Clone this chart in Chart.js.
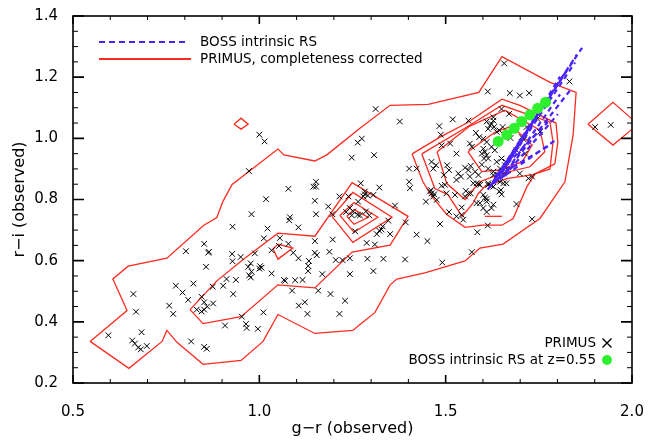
<!DOCTYPE html>
<html>
<head>
<meta charset="utf-8">
<script src="https://cdn.jsdelivr.net/npm/chart.js@4.4.1/dist/chart.umd.min.js"></script>
<style>
  html, body { margin: 0; background: #fff; }
  #wrap { width: 662px; height: 440px; }
</style>
</head>
<body>
<div id="wrap"><canvas id="chart"></canvas></div>
<script>
// axis ticks
const xTicks = [0.5, 1.0, 1.5, 2.0]
const yTicks = [0.2, 0.4, 0.6, 0.8, 1.0, 1.2, 1.4]

// PRIMUS galaxies, [g-r, r-i]
const primusPoints = [
  [0.595,0.356],[0.662,0.491],[0.669,0.433],[0.684,0.366],[0.659,0.339],[0.666,0.329],[0.675,0.316],[0.682,0.310],[0.698,0.321],
  [0.758,0.453],[0.769,0.426],[0.776,0.518],[0.794,0.496],[0.809,0.472],[0.823,0.525],[0.857,0.580],[0.845,0.482],[0.852,0.464],
  [0.860,0.450],[0.832,0.440],[0.845,0.434],[0.852,0.440],[0.876,0.460],[0.875,0.515],[0.903,0.518],[0.912,0.540],[0.937,0.537],
  [0.930,0.491],[0.928,0.598],[0.927,0.622],[0.950,0.612],[0.970,0.580],[0.908,0.388],[0.953,0.417],[0.966,0.380],[0.817,0.336],
  [0.852,0.318],[0.859,0.312],[0.863,0.626],[0.803,0.631],[0.852,0.655],[0.865,0.629],
  [0.964,0.393],[0.996,0.377],[1.011,0.431],[0.928,0.711],[0.979,0.752],[1.018,0.801],[1.012,0.673],[1.022,0.705],[1.033,0.634],
  [1.055,0.674],[1.078,0.835],[1.080,0.732],[1.082,0.742],[1.105,0.709],[1.053,0.648],[1.078,0.655],[1.091,0.626],[1.105,0.608],
  [1.131,0.583],[1.133,0.599],[1.131,0.566],[1.149,0.626],[1.154,0.618],[1.116,0.537],[1.088,0.502],[1.122,0.464],[1.106,0.453],
  [1.129,0.426],[1.158,0.502],[1.169,0.556],[1.188,0.629],[1.191,0.491],[1.215,0.426],[1.230,0.469],[1.205,0.602],[1.223,0.602],
  [1.243,0.608],[1.243,0.556],[1.149,0.664],[1.152,0.752],[1.149,0.796],[1.152,0.842],[1.197,0.669],[1.185,0.777],[1.196,0.752],
  [1.215,0.810],[1.239,0.810],[1.243,0.772],[1.252,0.761],[1.257,0.696],[1.264,0.750],
  [0.988,0.624],[0.977,0.591],[1.002,0.582],[1.006,0.577],[1.000,0.574],[0.979,0.564],[0.973,0.552],[0.977,0.545],[1.033,0.558],
  [1.066,0.537],[1.069,0.534],[1.096,0.536],
  [1.283,0.817],[1.306,0.815],[1.265,0.793],[1.233,0.759],[1.248,0.748],[1.270,0.748],[1.286,0.761],[1.295,0.748],[1.364,0.780],
  [1.346,0.731],[1.331,0.712],[1.322,0.698],[1.315,0.687],[1.328,0.702],[1.351,0.687],[1.393,0.725],[1.288,0.658],[1.310,0.653],
  [1.422,0.685],[1.451,0.664],[1.290,0.606],[1.333,0.606],[1.391,0.604],[1.306,0.566],[1.491,0.594],[1.570,0.628],[1.447,0.793],
  [1.462,0.820],[1.476,0.799],[1.485,0.720],[1.502,0.820],[1.525,0.815],[1.552,0.810],[1.561,0.820],[1.509,0.759],[1.529,0.745],
  [1.543,0.750],[1.543,0.774],[1.547,0.734],[1.583,0.788],[1.601,0.772],[1.610,0.793],[1.605,0.806],[1.628,0.783],[1.623,0.772],
  [1.610,0.759],[1.650,0.817],[1.585,0.693],[1.613,0.715],[1.690,0.785],[1.732,0.736],
  [1.000,1.012],[1.014,0.990],[0.972,0.893],[1.145,0.842],[1.152,0.858],[1.248,0.937],[1.264,0.986],[1.308,0.945],[1.272,0.853],
  [1.322,0.839],[1.283,0.826],[1.291,0.813],[1.279,0.810],
  [1.657,1.245],[1.832,1.186],[1.613,1.153],[1.672,1.148],[1.699,1.140],[1.724,1.148],[1.312,1.096],[1.377,1.055],[1.519,1.062],
  [1.483,1.040],[1.561,1.058],[1.610,1.055],[1.623,1.047],[1.630,1.037],[1.614,1.031],[1.637,1.021],[1.581,1.018],[1.590,1.004],
  [1.601,0.999],[1.610,0.988],[1.487,1.012],[1.512,0.983],[1.489,0.977],[1.529,0.950],[1.275,0.999],[1.402,0.901],[1.422,0.901],
  [1.402,0.858],[1.462,0.923],[1.474,0.912],[1.467,0.901],[1.504,0.912],[1.509,0.896],[1.495,0.880],[1.489,0.845],[1.498,0.848],
  [1.534,0.885],[1.541,0.875],[1.529,0.864],[1.552,0.904],[1.567,0.910],[1.561,0.896],[1.583,0.853],[1.589,0.850],[1.554,0.828],
  [1.567,0.820],[1.614,0.848],[1.628,0.842],[1.460,0.831],[1.469,0.817],[1.404,0.837],[1.628,0.880],[1.656,0.885],[1.646,0.901],
  [1.648,0.831],[1.644,0.826],[1.663,0.853],[1.601,0.966],[1.605,0.956],[1.597,0.950],[1.610,0.945],[1.614,0.934],[1.603,0.934],
  [1.623,0.972],[1.632,0.961],[1.650,0.934],[1.662,0.923],[1.659,0.912],[1.637,0.923],[1.690,0.961],[1.713,0.950],[1.710,0.996],
  [1.732,0.875],[1.901,1.037],[1.943,1.044],
  [1.650,1.096],[1.628,1.069],[1.670,1.080],[1.644,1.026],[1.653,1.037],[1.746,1.064],[1.717,1.037],[1.753,1.021],[1.674,1.001],
  [1.704,1.004],
  [1.565,0.983],[1.570,0.972],[1.579,0.891],[1.588,0.880],[1.565,0.875],[1.574,0.853],[1.597,0.914],[1.614,0.901],[1.628,0.891],
  [1.641,0.880],[1.646,0.858],[1.655,0.853],[1.637,0.864],[1.592,0.848],[1.614,0.853],[1.623,0.845],[1.458,0.826],[1.467,0.810],
  [1.601,0.815],[1.610,0.802],[1.592,0.788],[1.628,1.058],[1.619,1.042],[1.699,0.885],[1.722,0.869],[1.668,0.896]
]

// BOSS intrinsic red sequence at z=0.55
const bossRS = [
  [1.641,0.990],[1.664,1.012],[1.684,1.033],[1.704,1.055],[1.726,1.077],[1.747,1.098],[1.768,1.118]
]

// BOSS intrinsic RS tracks: [gr0, ri0, gr1, ri1]
const bossTracks = [
  [1.619,0.842,1.866,1.296],
  [1.624,0.849,1.852,1.274],
  [1.630,0.852,1.847,1.248],
  [1.635,0.858,1.828,1.228],
  [1.640,0.865,1.807,1.202],
  [1.646,0.865,1.834,1.157],
  [1.651,0.871,1.807,1.144],
  [1.656,0.875,1.801,1.079],
  [1.662,0.881,1.799,0.998],
  [1.659,0.891,1.780,0.978],
  [1.632,0.875,1.774,1.053],
  [1.613,0.832,1.766,1.118]
]

// PRIMUS density contours (completeness corrected)
const contourOuter = [
  [0.546,0.336],[0.650,0.248],[0.739,0.336],[0.752,0.372],[0.779,0.333],[0.849,0.261],[0.951,0.274],[1.010,0.336],
  [1.050,0.424],[1.149,0.362],[1.251,0.372],[1.270,0.391],[1.310,0.430],[1.351,0.521],[1.369,0.540],[1.444,0.560],
  [1.552,0.599],[1.592,0.641],[1.654,0.654],[1.753,0.738],[1.820,0.858],[1.842,1.011],[1.850,1.150],[1.780,1.183],
  [1.651,1.267],[1.589,1.150],[1.453,1.111],[1.351,1.108],[1.270,1.033],[1.181,0.946],[1.149,0.926],[1.066,0.946],
  [1.050,0.965],[0.927,0.849],[0.902,0.793],[0.886,0.741],[0.851,0.716],[0.752,0.608],[0.648,0.582],[0.607,0.540],
  [0.645,0.437]
]
const contourBridge = [
  [0.814,0.440],[0.849,0.394],[0.951,0.417],[1.050,0.521],[1.149,0.511],[1.249,0.628],[1.351,0.651],[1.399,0.745],
  [1.249,0.855],[1.149,0.680],[1.050,0.690],[0.961,0.608],[0.886,0.534]
]
const contourMidA = [[1.195,0.745],[1.251,0.823],[1.356,0.742],[1.251,0.660]]
const contourMidB = [[1.216,0.748],[1.254,0.790],[1.318,0.742],[1.254,0.693]]
const contourMidC = [[1.235,0.745],[1.254,0.767],[1.292,0.742],[1.254,0.719]]
const contourTri = [[1.037,0.638],[1.050,0.654],[1.090,0.641],[1.050,0.605]]
const contourSpotL = [[0.932,1.046],[0.951,1.066],[0.970,1.046],[0.951,1.030]]
const contourSpotR = [[1.882,1.046],[1.949,1.118],[2.016,1.046],[1.949,0.978]]
const contourRedA = [
  [1.410,0.949],[1.485,1.004],[1.557,1.050],[1.651,1.128],[1.699,1.108],[1.796,1.050],[1.801,0.988],[1.793,0.917],
  [1.740,0.884],[1.718,0.842],[1.681,0.738],[1.651,0.716],[1.600,0.716],[1.552,0.709],[1.503,0.751],[1.463,0.810],
  [1.439,0.858]
]
const contourRedB = [
  [1.436,0.949],[1.557,1.037],[1.651,1.108],[1.780,1.053],[1.788,0.988],[1.780,0.900],[1.734,0.881],[1.664,0.868],
  [1.605,0.842],[1.587,0.819],[1.573,0.787],[1.544,0.745],[1.506,0.816],[1.471,0.836]
]
const contourRedC = [
  [1.477,0.956],[1.565,1.040],[1.659,1.092],[1.753,1.027],[1.766,0.956],[1.726,0.907],[1.646,0.884],[1.592,0.858],
  [1.552,0.800],[1.503,0.852]
]
const contourRedD = [[1.560,0.956],[1.632,1.020],[1.678,1.040],[1.732,0.978],[1.705,0.923],[1.646,0.897],[1.597,0.891]]
const contourStub = [[1.605,0.745],[1.651,0.745]]

const closedContours = [contourOuter, contourBridge, contourMidA, contourMidB, contourMidC, contourTri,
  contourSpotL, contourSpotR, contourRedA, contourRedB, contourRedC, contourRedD]

const RED = '#ff2a1f'
const BLUE = '#4a22ff'
const GREEN = '#2ef02e'
const FONT = 'DejaVu Sans'

const toXY = pts => pts.map(([x, y]) => ({ x, y }))

const datasets = []
datasets.push({
  label: 'BOSS intrinsic RS at z=0.55',
  data: toXY(bossRS),
  pointStyle: 'circle',
  pointRadius: 5.5,
  backgroundColor: GREEN,
  borderWidth: 0
})
bossTracks.forEach(t => {
  datasets.push({
    label: 'BOSS intrinsic RS',
    data: [{ x: t[0], y: t[1] }, { x: t[2], y: t[3] }],
    showLine: true,
    borderColor: BLUE,
    borderWidth: 2.2,
    borderDash: [5, 4],
    pointRadius: 0
  })
})
datasets.push({
  label: 'PRIMUS',
  data: toXY(primusPoints),
  pointStyle: 'crossRot',
  pointRadius: 4,
  borderColor: '#000',
  borderWidth: 1
})
closedContours.forEach(c => {
  datasets.push({
    label: 'PRIMUS, completeness corrected',
    data: toXY(c.concat([c[0]])),
    showLine: true,
    borderColor: RED,
    borderWidth: 1.3,
    pointRadius: 0,
    tension: 0
  })
})
datasets.push({
  label: 'PRIMUS, completeness corrected',
  data: toXY(contourStub),
  showLine: true,
  borderColor: RED,
  borderWidth: 1.3,
  pointRadius: 0
})

// box with inward ticks on all sides, plus the two in-plot legends
const boxAndLegends = {
  id: 'boxAndLegends',
  afterDatasetsDraw (chart) {
    const { ctx, chartArea: a, scales: { x, y } } = chart
    ctx.save()
    ctx.strokeStyle = '#000'
    ctx.lineWidth = 1.6
    ctx.strokeRect(a.left, a.top, a.right - a.left, a.bottom - a.top)

    const tick = (major) => {
      ctx.beginPath()
      for (let i = 0; i <= 15; i++) {
        if ((i % 5 === 0) !== major) continue
        const px = x.getPixelForValue(0.5 + i * 0.1)
        const len = major ? 8 : 4
        ctx.moveTo(px, a.bottom); ctx.lineTo(px, a.bottom - len)
        ctx.moveTo(px, a.top); ctx.lineTo(px, a.top + len)
      }
      for (let i = 0; i <= 24; i++) {
        if ((i % 4 === 0) !== major) continue
        const py = y.getPixelForValue(0.2 + i * 0.05)
        const len = major ? 11 : 5
        ctx.moveTo(a.left, py); ctx.lineTo(a.left + len, py)
        ctx.moveTo(a.right, py); ctx.lineTo(a.right - len, py)
      }
      ctx.stroke()
    }
    ctx.lineWidth = 1.6; tick(true)
    ctx.lineWidth = 1; tick(false)

    // upper-left legend
    ctx.font = '13.5px "' + FONT + '"'
    ctx.fillStyle = '#000'
    ctx.textBaseline = 'middle'
    ctx.textAlign = 'left'
    const lx = a.left + 26
    ctx.strokeStyle = BLUE; ctx.lineWidth = 2; ctx.setLineDash([6, 4])
    ctx.beginPath(); ctx.moveTo(lx, a.top + 26); ctx.lineTo(lx + 88, a.top + 26); ctx.stroke()
    ctx.setLineDash([])
    ctx.strokeStyle = RED; ctx.lineWidth = 2
    ctx.beginPath(); ctx.moveTo(lx, a.top + 43); ctx.lineTo(lx + 92, a.top + 43); ctx.stroke()
    ctx.fillText('BOSS intrinsic RS', lx + 101, a.top + 26)
    ctx.fillText('PRIMUS, completeness corrected', lx + 101, a.top + 43)

    // lower-right legend
    ctx.textAlign = 'right'
    const rx = a.right - 36
    ctx.fillText('PRIMUS', rx, a.bottom - 40)
    ctx.fillText('BOSS intrinsic RS at z=0.55', rx, a.bottom - 23)
    ctx.strokeStyle = '#000'; ctx.lineWidth = 1.4
    const cx = rx + 11, cy = a.bottom - 40
    ctx.beginPath()
    ctx.moveTo(cx - 4.5, cy - 4.5); ctx.lineTo(cx + 4.5, cy + 4.5)
    ctx.moveTo(cx - 4.5, cy + 4.5); ctx.lineTo(cx + 4.5, cy - 4.5)
    ctx.stroke()
    ctx.fillStyle = GREEN
    ctx.beginPath(); ctx.arc(rx + 11, a.bottom - 23, 5, 0, Math.PI * 2); ctx.fill()
    ctx.restore()
  }
}

const chart = new Chart(document.getElementById('chart'), {
  type: 'scatter',
  data: { datasets },
  options: {
    responsive: true,
    maintainAspectRatio: false,
    animation: false,
    layout: { padding: { left: 8, right: 30, top: 13, bottom: 0 } },
    plugins: { legend: { display: false }, tooltip: { enabled: false } },
    scales: {
      x: {
        type: 'linear',
        min: 0.5,
        max: 2.0,
        afterBuildTicks: s => { s.ticks = xTicks.map(v => ({ value: v })) },
        afterFit: s => { s.height = 57 },
        ticks: { color: '#000', font: { family: FONT, size: 15 }, padding: 12, maxRotation: 0, callback: v => v.toFixed(1) },
        grid: { display: false },
        border: { display: false },
        title: { display: true, text: 'g\u2212r (observed)', color: '#000', font: { family: FONT, size: 16 }, padding: { top: 0, bottom: 2 } }
      },
      y: {
        type: 'linear',
        min: 0.2,
        max: 1.4,
        afterBuildTicks: s => { s.ticks = yTicks.map(v => ({ value: v })) },
        afterFit: s => { s.width = 65 },
        ticks: { color: '#000', font: { family: FONT, size: 15 }, padding: 7, callback: v => v.toFixed(1) },
        grid: { display: false },
        border: { display: false },
        title: { display: true, text: 'r\u2212i (observed)', color: '#000', font: { family: FONT, size: 16 }, padding: { top: 2, bottom: 0 } }
      }
    }
  },
  plugins: [boxAndLegends]
})
</script>
</body>
</html>
